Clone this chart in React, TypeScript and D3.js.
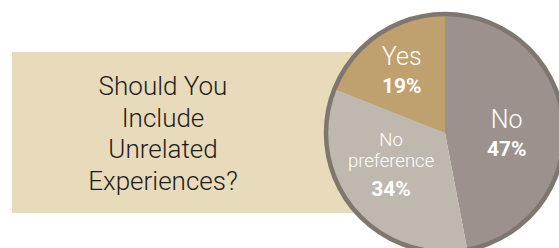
import { useEffect, useRef } from 'react'
import * as d3 from 'd3'

const categories = ['No', 'No preference', 'Yes']
const values = [47, 34, 19]
const percentLabels = ['47%', '34%', '19%']
const sliceColors = ['#9c918d', '#bfb8ae', '#bfa06f']
const titleLines = ['Should You', 'Include', 'Unrelated', 'Experiences?']

interface Slice {
  name: string
  value: number
  pct: string
  color: string
}

export default function App() {
  const svgRef = useRef<SVGSVGElement>(null)

  useEffect(() => {
    if (!svgRef.current) return
    document.body.style.margin = '0'

    const data: Slice[] = categories.map((name, i) => ({
      name,
      value: values[i],
      pct: percentLabels[i],
      color: sliceColors[i]
    }))

    const width = 559
    const height = 248
    const cx = 445
    const cy = 133
    const radius = 119

    const svg = d3.select(svgRef.current)
    svg.selectAll('*').remove()
    svg.attr('width', width).attr('height', height)

    // Title panel
    svg.append('rect')
      .attr('x', 12)
      .attr('y', 52)
      .attr('width', cx - 12)
      .attr('height', 161)
      .attr('fill', '#e8dbbb')

    const title = svg.append('text')
      .attr('text-anchor', 'middle')
      .style('font-family', 'Roboto, "Noto Sans", sans-serif')
      .style('font-size', '26px')
      .style('font-weight', 300)
      .style('fill', '#1f1c1c')

    titleLines.forEach((line, i) => {
      title.append('tspan')
        .attr('x', 163)
        .attr('y', 95 + i * 31.7)
        .text(line)
    })

    // Pie
    const pie = d3.pie<Slice>()
      .value(d => d.value)
      .sort(null)

    const arc = d3.arc<d3.PieArcDatum<Slice>>()
      .innerRadius(0)
      .outerRadius(radius)

    const g = svg.append('g')
      .attr('transform', `translate(${cx},${cy})`)

    const arcs = pie(data)

    g.selectAll('path.slice')
      .data(arcs)
      .enter().append('path')
      .attr('class', 'slice')
      .attr('d', arc)
      .attr('fill', d => d.data.color)

    g.append('circle')
      .attr('r', radius)
      .attr('fill', 'none')
      .attr('stroke', '#7f766f')
      .attr('stroke-width', 4.5)

    // Labels: radius for the anchor point + line offsets per slice
    const labelRadius: Record<string, number> = { 'No': 62, 'No preference': 70, 'Yes': 77 }
    const nameLines: Record<string, { text: string; dy: number; size: number }[]> = {
      'No': [{ text: 'No', dy: 1, size: 25 }],
      'No preference': [
        { text: 'No', dy: -31.5, size: 18.5 },
        { text: 'preference', dy: -10.5, size: 18.5 }
      ],
      'Yes': [{ text: 'Yes', dy: -4.3, size: 25 }]
    }
    const pctDy: Record<string, number> = { 'No': 29, 'No preference': 18.5, 'Yes': 23.7 }

    arcs.forEach(a => {
      const r = labelRadius[a.data.name]
      const mid = (a.startAngle + a.endAngle) / 2
      const lx = Math.sin(mid) * r
      const ly = -Math.cos(mid) * r
      nameLines[a.data.name].forEach(l => {
        g.append('text')
          .attr('x', lx)
          .attr('y', ly + l.dy)
          .attr('text-anchor', 'middle')
          .style('font-family', 'Roboto, "Open Sans", sans-serif')
          .style('font-size', `${l.size}px`)
          .style('font-weight', 300)
          .style('fill', '#ffffff')
          .text(l.text)
      })
      g.append('text')
        .attr('x', lx)
        .attr('y', ly + pctDy[a.data.name])
        .attr('text-anchor', 'middle')
        .style('font-family', 'Roboto, "Open Sans", sans-serif')
        .style('font-size', '21px')
        .style('font-weight', 700)
        .style('fill', '#ffffff')
        .text(a.data.pct)
    })
  }, [])

  return <svg ref={svgRef} style={{ display: 'block' }}></svg>
}
